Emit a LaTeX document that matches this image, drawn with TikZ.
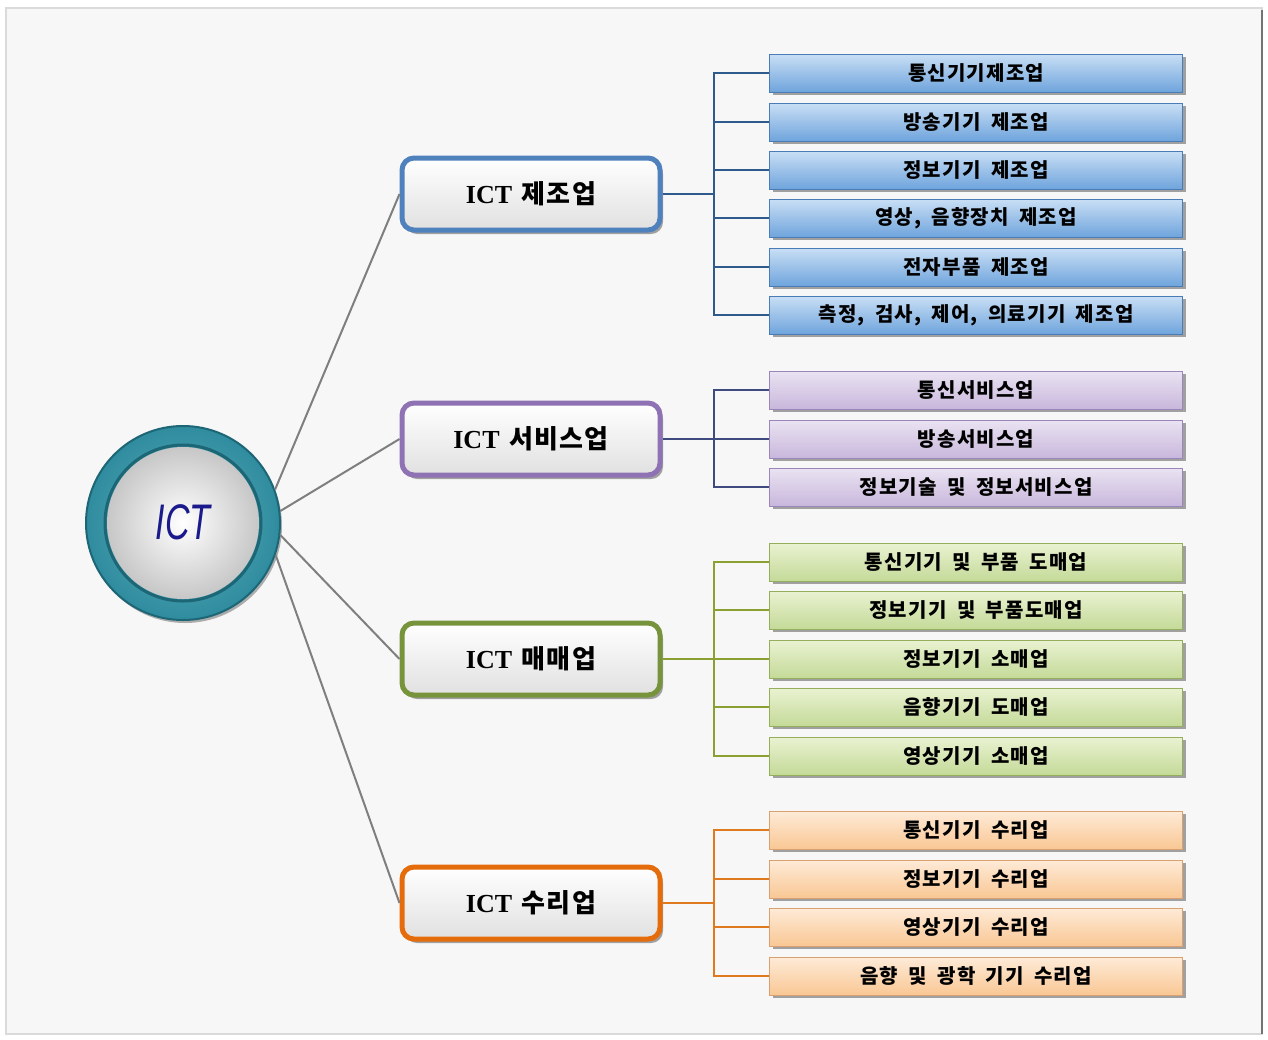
\documentclass[tikz,border=0pt]{standalone}
\usepackage{fontspec}
\setmainfont{Noto Sans CJK KR}
\newfontfamily\krsp{Noto Sans CJK KR}[LetterSpace=6,WordSpace=1.8]
\newfontfamily\krcat{Noto Sans CJK KR}[LetterSpace=5,WordSpace=1.3]
\newfontfamily\serifb{Liberation Serif}
\newfontfamily\icsans{Liberation Sans}
\usetikzlibrary{shadows,calc}
\definecolor{bgpanel}{HTML}{F7F7F7}
\definecolor{panelline}{HTML}{DADADA}
\definecolor{teal1}{HTML}{2F8C9E}
\definecolor{teal0}{HTML}{5FB0C0}
\definecolor{teal2}{HTML}{1D6676}
\definecolor{spoke}{HTML}{7F7F7F}
\definecolor{blueB}{HTML}{4F81BD}
\definecolor{purpB}{HTML}{8E72B4}
\definecolor{greenB}{HTML}{77933C}
\definecolor{orangeB}{HTML}{E46C0A}
\definecolor{blueT}{HTML}{C9DFF5}
\definecolor{blueM}{HTML}{6FA4DC}
\definecolor{blueE}{HTML}{4A7DB8}
\definecolor{purpT}{HTML}{EAE3F2}
\definecolor{purpM}{HTML}{C8B7DC}
\definecolor{purpE}{HTML}{9A86B8}
\definecolor{greenT}{HTML}{EAF2D2}
\definecolor{greenM}{HTML}{C4DA98}
\definecolor{greenE}{HTML}{94AE5C}
\definecolor{orangeT}{HTML}{FEEBD8}
\definecolor{orangeM}{HTML}{F9C794}
\definecolor{orangeE}{HTML}{D9A070}
\definecolor{blueL}{HTML}{2E5A8C}
\definecolor{purpL}{HTML}{3F4A7E}
\definecolor{greenL}{HTML}{8AA030}
\definecolor{orangeL}{HTML}{E07A1E}
\definecolor{ictblue}{HTML}{1A1A8C}
\tikzset{
  leafbox/.style={minimum width=413, minimum height=38, inner sep=0pt,
    font=\krsp\bfseries\fontsize{20}{20}\selectfont, text=black,
    drop shadow={shadow xshift=3pt, shadow yshift=-3pt, opacity=0.35, fill=black}},
  leafblue/.style={leafbox, draw=blueE, top color=blueT, bottom color=blueM},
  leafpurp/.style={leafbox, draw=purpE, top color=purpT, bottom color=purpM},
  leafgreen/.style={leafbox, draw=greenE, top color=greenT, bottom color=greenM},
  leaforange/.style={leafbox, draw=orangeE, top color=orangeT, bottom color=orangeM},
  catbox/.style={minimum width=258, minimum height=72, inner sep=0pt, rounded corners=12pt,
    line width=5pt, top color=white, bottom color=black!12,
    font=\krcat\bfseries\fontsize{26}{26}\selectfont,
    drop shadow={shadow xshift=3pt, shadow yshift=-4pt, opacity=0.35, fill=black}},
  spokeline/.style={draw=spoke, line width=2pt},
  brk/.style={line width=1.3pt},
}
\begin{document}
\begin{tikzpicture}[x=1pt,y=-1pt]
\useasboundingbox (0,0) rectangle (1268,1039);
\fill[white] (0,0) rectangle (1268,1039);
\draw[panelline, fill=bgpanel, line width=1.5pt] (6,8) rectangle (1262,1034);
\draw[black!55, line width=2pt] (1262,10) -- (1262,1034);

% root circle
\node[circle, minimum size=194, inner sep=0pt, inner color=teal0, outer color=teal1, draw=teal2, line width=2pt,
  drop shadow={shadow xshift=2pt, shadow yshift=-3pt, opacity=0.3, fill=black}] (root) at (183,523) {};
\draw[teal2, line width=3pt] (root.center) circle[radius=78];
\shade[inner color=white, outer color=black!22] (root.center) circle[radius=76];
\node[text=ictblue, font=\icsans\itshape\fontsize{50}{50}\selectfont] (rootlabel) at (183,522) {\scalebox{0.68}[1]{ICT}};

% category boxes
\node[catbox, draw=blueB] (c1) at (531,194) {{\serifb ICT} 제조업};
\node[catbox, draw=purpB] (c2) at (531,439) {{\serifb ICT} 서비스업};
\node[catbox, draw=greenB] (c3) at (531,659) {{\serifb ICT} 매매업};
\node[catbox, draw=orangeB] (c4) at (531,903) {{\serifb ICT} 수리업};

% spokes
\draw[spokeline] (root.20) -- (c1.west);
\draw[spokeline] (root.7) -- (c2.west);
\draw[spokeline] (root.-7) -- (c3.west);
\draw[spokeline] (root.-19) -- (c4.west);

% leaves: manufacturing
\node[leafblue] (a1) at (976,73) {통신기기제조업};
\node[leafblue] (a2) at (976,122) {방송기기 제조업};
\node[leafblue] (a3) at (976,170) {정보기기 제조업};
\node[leafblue] (a4) at (976,218) {영상, 음향장치 제조업};
\node[leafblue] (a5) at (976,267) {전자부품 제조업};
\node[leafblue] (a6) at (976,315) {측정, 검사, 제어, 의료기기 제조업};
% services
\node[leafpurp] (b1) at (976,390) {통신서비스업};
\node[leafpurp] (b2) at (976,439) {방송서비스업};
\node[leafpurp] (b3) at (976,487) {정보기술 및 정보서비스업};
% trade
\node[leafgreen] (g1) at (976,562) {통신기기 및 부품 도매업};
\node[leafgreen] (g2) at (976,610) {정보기기 및 부품도매업};
\node[leafgreen] (g3) at (976,659) {정보기기 소매업};
\node[leafgreen] (g4) at (976,707) {음향기기 도매업};
\node[leafgreen] (g5) at (976,756) {영상기기 소매업};
% repair
\node[leaforange] (o1) at (976,830) {통신기기 수리업};
\node[leaforange] (o2) at (976,879) {정보기기 수리업};
\node[leaforange] (o3) at (976,927) {영상기기 수리업};
\node[leaforange] (o4) at (976,976) {음향 및 광학 기기 수리업};

% brackets
\coordinate (j1) at (714,194);
\coordinate (j2) at (714,439);
\coordinate (j3) at (714,659);
\coordinate (j4) at (714,903);
\foreach \n in {a1,a2,a3,a4,a5,a6} \draw[brk, blueL] (c1.east) -- (j1) |- (\n.west);
\foreach \n in {b1,b2,b3} \draw[brk, purpL] (c2.east) -- (j2) |- (\n.west);
\foreach \n in {g1,g2,g3,g4,g5} \draw[brk, greenL] (c3.east) -- (j3) |- (\n.west);
\foreach \n in {o1,o2,o3,o4} \draw[brk, orangeL] (c4.east) -- (j4) |- (\n.west);
\end{tikzpicture}
\end{document}
